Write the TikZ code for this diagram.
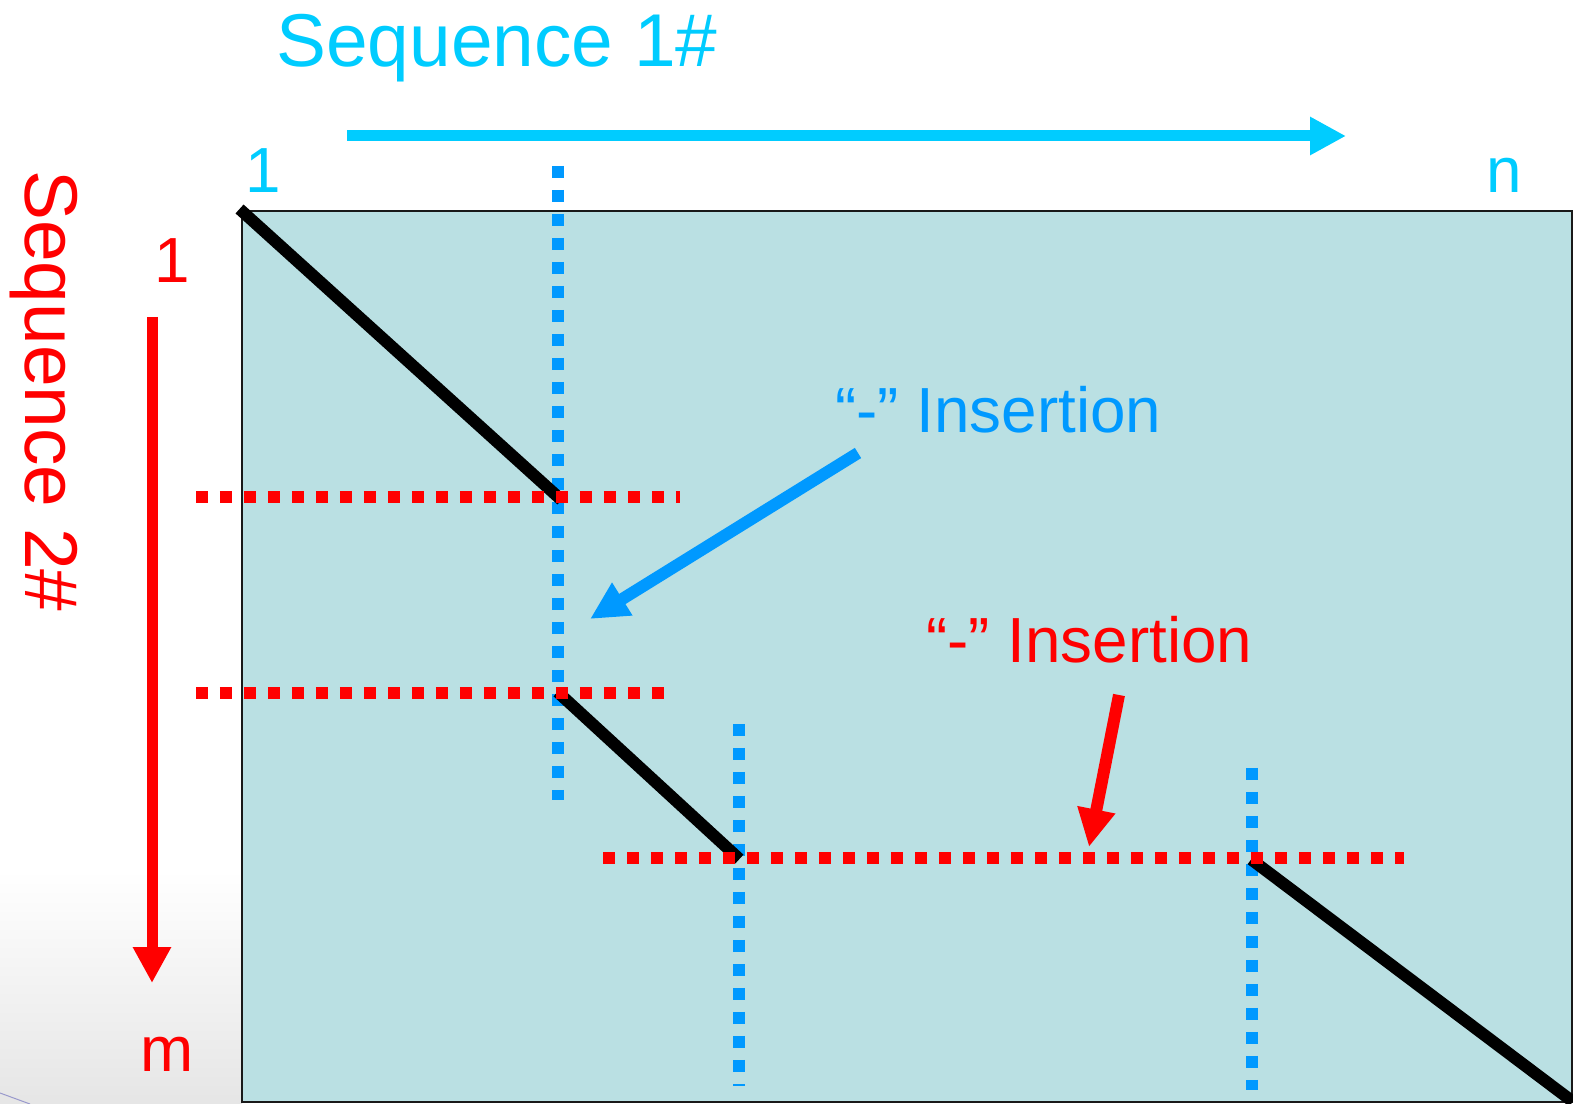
\documentclass[tikz,border=0pt]{standalone}
\usepackage{fontspec}
\setmainfont{Liberation Sans}
\usepackage{xcolor}
\usetikzlibrary{arrows.meta,positioning,calc}
\definecolor{cSeqA}{HTML}{00CCFF}
\definecolor{cGapA}{HTML}{0099FF}
\definecolor{cSeqB}{HTML}{FF0000}
\definecolor{cMat}{HTML}{BAE0E3}
\definecolor{cEdge}{HTML}{9999CC}
\tikzset{
  bigtxt/.style={inner sep=0pt, font=\fontsize{42.6}{50}\selectfont},
  midtxt/.style={inner sep=0pt, font=\fontsize{36.3}{43}\selectfont},
  gapblue/.style={cGapA, line width=0.24cm, dash pattern=on 0.24cm off 0.24cm},
  gapred/.style={cSeqB, line width=0.24cm, dash pattern=on 0.24cm off 0.24cm},
  pathln/.style={black, line width=0.24cm, line cap=rect},
  axarr/.style={-{Triangle[length=0.72cm, width=0.72cm]}, line width=0.22cm},
  notearr/.style={-{Triangle[length=0.76cm, width=0.72cm]}, line width=0.24cm}
}
\begin{document}
\begin{tikzpicture}[x=0.02cm, y=-0.02cm]
\useasboundingbox (0,0) rectangle (1573,1104);
% slide background corner
\shade[top color=white, bottom color=black!10] (0,870) rectangle (242,1104);
\draw[cEdge, line width=0.02cm] (0,1093) -- (30,1104);
% score matrix
\draw[fill=cMat, draw=black!90, line width=0.04cm] (242,211) rectangle (1572,1102);
% axis labels
\node[bigtxt, text=cSeqA, anchor=base west] (seqa) at (276,67) {Sequence 1\#};
\node[bigtxt, text=cSeqB, anchor=base west, rotate=-90] (seqb) at (26,170) {Sequence 2\#};
\node[midtxt, text=cSeqA, anchor=base] (a1) at (263,193) {1};
\node[midtxt, text=cSeqA, anchor=base] (an) at (1504,193) {n};
\node[midtxt, text=cSeqB, anchor=base] (b1) at (172,283) {1};
\node[midtxt, text=cSeqB, anchor=base] (bm) at (167,1071) {m};
% axis arrows
\coordinate (aS) at (347,136); \coordinate (aE) at (1346,136);
\coordinate (bS) at (152,317); \coordinate (bE) at (152,983);
\draw[axarr, cSeqA] (aS) -- (aE);
\draw[axarr, cSeqB] (bS) -- (bE);
% gaps in sequence 1#
\coordinate (g1t) at (558,166); \coordinate (g1b) at (558,800);
\coordinate (g2t) at (739,724); \coordinate (g2b) at (739,1086);
\coordinate (g3t) at (1252,768); \coordinate (g3b) at (1252,1090);
\draw[gapblue] (g1t) -- (g1b);
\draw[gapblue] (g2t) -- (g2b);
\draw[gapblue] (g3t) -- (g3b);
% alignment path
\coordinate (p0) at (244,213); \coordinate (p1) at (557,496);
\coordinate (p2) at (562,696); \coordinate (p3) at (735,855);
\coordinate (p4) at (1256,863); \coordinate (p5) at (1568,1098);
\draw[pathln] (p0) -- (p1);
\draw[pathln] (p2) -- (p3);
\draw[pathln] (p4) -- (p5);
% gaps in sequence 2#
\coordinate (h1l) at (196,497); \coordinate (h1r) at (680,497);
\coordinate (h2l) at (196,693); \coordinate (h2r) at (664,693);
\coordinate (h3l) at (603,858); \coordinate (h3r) at (1404,858);
\draw[gapred] (h1l) -- (h1r);
\draw[gapred] (h2l) -- (h2r);
\draw[gapred] (h3l) -- (h3r);
% insertion notes
\node[midtxt, text=cGapA, anchor=base west] (insa) at (835,433) {“-” Insertion};
\node[midtxt, text=cSeqB, anchor=base west] (insb) at (926,663) {“-” Insertion};
\coordinate (naS) at (858,453); \coordinate (naE) at (590,619);
\coordinate (nbS) at (1119,695); \coordinate (nbE) at (1089,847);
\draw[notearr, cGapA] (naS) -- (naE);
\draw[notearr, cSeqB] (nbS) -- (nbE);
\end{tikzpicture}
\end{document}
